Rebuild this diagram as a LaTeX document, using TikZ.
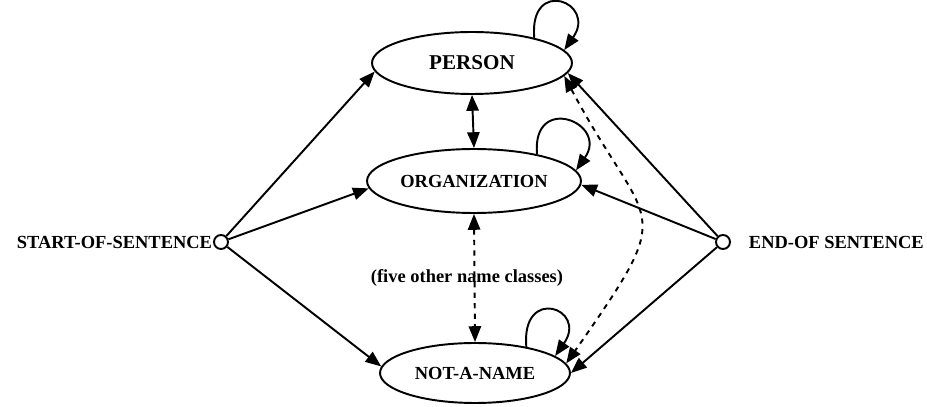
\documentclass[tikz,border=0pt]{standalone}
\usepackage{fontspec}
\setmainfont{Liberation Serif}
\usetikzlibrary{shapes.geometric}
\usetikzlibrary{arrows.meta}

\begin{document}
\begin{tikzpicture}[x=0.02cm,y=0.02cm,line width=1.1pt,
	>={Triangle[length=9pt,width=7pt]},
	state/.style={draw,ellipse,inner sep=0pt,font=\fontsize{10.5}{12}\selectfont\bfseries},
	endpoint/.style={draw,circle,minimum size=0.28cm,inner sep=0pt},
	lbl/.style={inner sep=0pt,font=\fontsize{10.5}{12}\selectfont\bfseries}]
	\useasboundingbox (0,0) rectangle (927,406);
	% Name Classes %
	\node (person) [state,minimum width=4cm,minimum height=1.24cm] at (472,343) {\fontsize{12}{14}\selectfont PERSON};
	\node (org) [state,minimum width=4.28cm,minimum height=1.28cm] at (474,225) {ORGANIZATION};
	\node (notaname) [state,minimum width=3.8cm,minimum height=1.2cm] at (475,33) {NOT-A-NAME};
	\node (others) [lbl] at (467,128) {(five other name classes)};
	% Sentence Ends %
	\node (start) [endpoint] at (221,164) {};
	\node (end) [endpoint] at (723,164) {};
	\node (startlabel) [lbl,anchor=east] at (213,164) {START-OF-SENTENCE};
	\node (endlabel) [lbl,anchor=west] at (748,164) {END-OF SENTENCE};
	% Transitions %
	\draw [->] (start) -- (person.185);
	\draw [->] (start) -- (org.184);
	\draw [->] (start) -- (notaname.176);
	\draw [->] (end) -- (person.354);
	\draw [->] (end) -- (org.358);
	\draw [->] (end) -- (notaname.0);
	\draw [<->] (person.south) -- (org.north);
	\draw [<->,dashed] (org.south) -- (notaname.north);
	\draw [<->,dashed] (person.352) .. controls +(-62:180) and +(55:200) .. (notaname.6);
	% Self Loops %
	\draw [->] (person.22) .. controls +(95:62) and +(55:58) .. (person.8);
	\draw [->] (org.23) .. controls +(95:62) and +(55:58) .. (org.6);
	\draw [->] (notaname.27) .. controls +(95:62) and +(55:58) .. (notaname.12);
\end{tikzpicture}
\end{document}
